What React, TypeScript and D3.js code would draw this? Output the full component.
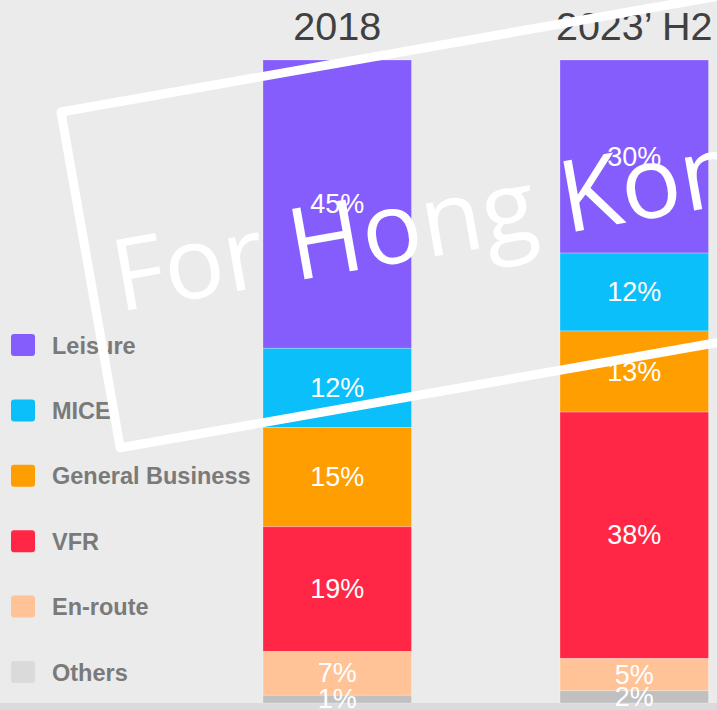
import React from "react";
import * as d3 from "d3";

const categories = ["Leisure", "MICE", "General Business", "VFR", "En-route", "Others"];
const periods = ["2018", "2023\u2019 H2"];
// shares (%); labels show them rounded
const values2018 = [44.8, 12.3, 15.4, 19.4, 6.8, 1.2];
const values2023H2 = [30.0, 12.1, 12.6, 38.3, 5.0, 1.9];
const barColors = ["#855dfd", "#0bbffa", "#ff9e00", "#ff2745", "#ffc397", "#c0c0c0"];
const legendColors = ["#855dfd", "#0bbffa", "#ff9e00", "#ff2745", "#ffc397", "#dadada"];
const watermarkText = "For Hong Kong";

const W = 717;
const H = 710;
const TOP = 60;
const BOTTOM = 703;

export default function App() {
  const series = [values2018, values2023H2];
  const fmt = d3.format(".0f");

  const x = d3
    .scaleBand<string>()
    .domain(periods)
    .range([188.75, 782.75])
    .paddingInner(0.5)
    .paddingOuter(0.25);

  const legendY = d3.scalePoint<string>().domain(categories).range([345, 672]);

  const bars = periods.map((p, i) => {
    const vals = series[i];
    const total = d3.sum(vals);
    const y = d3.scaleLinear().domain([0, total]).range([TOP, BOTTOM]);
    const cum = d3.cumsum(vals);
    return vals.map((v, j) => {
      const start = j === 0 ? 0 : cum[j - 1];
      const end = cum[j];
      return {
        key: `${p}-${categories[j]}`,
        x: x(p)!,
        y0: y(start),
        y1: y(end),
        value: v,
        color: barColors[j],
      };
    });
  });

  const font = "'Liberation Sans', Arial, Helvetica, sans-serif";

  return (
    <svg
      width={W}
      height={H}
      style={{ position: "absolute", left: 0, top: 0, display: "block" }}
    >
      <rect x={0} y={0} width={W} height={H} fill="#ebebeb" />
      <rect x={0} y={BOTTOM} width={W} height={H - BOTTOM} fill="#dbdbdb" />

      {bars.map((segs, i) => (
        <g key={periods[i]}>
          {segs.map((s) => (
            <rect
              key={s.key}
              x={s.x}
              y={s.y0}
              width={x.bandwidth()}
              height={s.y1 - s.y0}
              fill={s.color}
              stroke="rgba(255,255,255,0.25)"
              strokeWidth={1}
            />
          ))}
          {segs.map((s) => (
            <text
              key={s.key + "-l"}
              x={s.x + x.bandwidth() / 2}
              y={(s.y0 + s.y1) / 2}
              textAnchor="middle"
              dominantBaseline="central"
              fill="#ffffff"
              fontFamily={font}
              fontSize={27}
            >
              {fmt(s.value)}%
            </text>
          ))}
          <text
            x={x(periods[i])! + x.bandwidth() / 2}
            y={40}
            textAnchor="middle"
            fill="#404040"
            fontFamily={font}
            fontSize={39.5}
          >
            {periods[i]}
          </text>
        </g>
      ))}

      {categories.map((c, j) => (
        <g key={c} transform={`translate(0,${legendY(c)})`}>
          <rect x={11} y={-11} width={24} height={22} rx={3} fill={legendColors[j]} />
          <text
            x={52}
            y={8.5}
            fill="#7a7a7a"
            fontFamily={font}
            fontWeight="bold"
            fontSize={23.5}
          >
            {c}
          </text>
        </g>
      ))}

      <g transform="rotate(-10, 61, 112)">
        <rect
          x={61}
          y={112}
          width={780}
          height={341}
          fill="none"
          stroke="#ffffff"
          strokeWidth={9}
          strokeLinejoin="round"
        />
      </g>
      <text
        transform="translate(119,312) rotate(-10)"
        fill="#ffffff"
        fontFamily="'Open Sans', 'Noto Sans', sans-serif"
        fontSize={100}
      >
        {watermarkText}
      </text>
    </svg>
  );
}
